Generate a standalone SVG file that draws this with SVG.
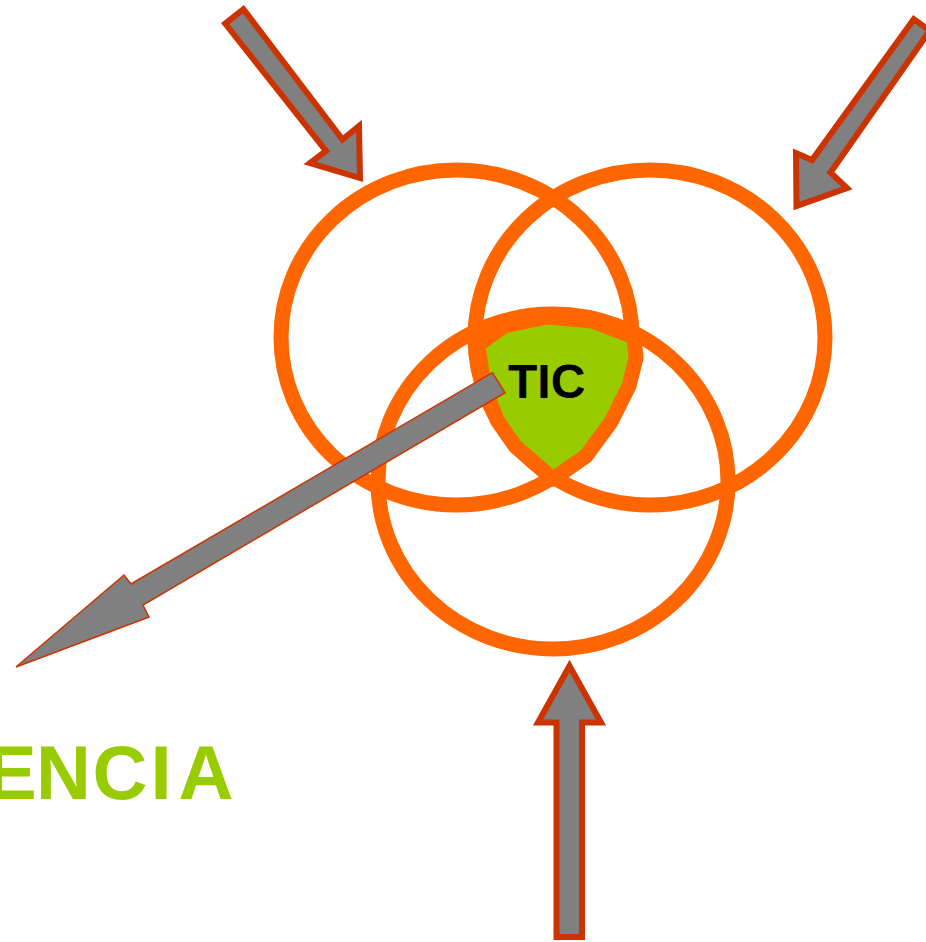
<svg xmlns="http://www.w3.org/2000/svg" width="926" height="942" viewBox="0 0 926 942">
<style>
.ring{fill:none;stroke:#FF6600;stroke-width:15}
.arrow{fill:#808080;stroke:#CC3300;stroke-width:6;stroke-linejoin:miter}
.thin{fill:#808080;stroke:#CC3300;stroke-width:1.5}
.label{font-family:"Liberation Sans",Arial,sans-serif;font-weight:bold}
</style>
<rect width="926" height="942" fill="#FFFFFF"/>
<g id="circle-left"><ellipse class="ring" cx="456.5" cy="337.5" rx="175.5" ry="167.5"/></g>
<g id="circle-right"><ellipse class="ring" cx="650" cy="337.5" rx="175" ry="167.5"/></g>
<g id="circle-bottom"><ellipse class="ring" cx="553" cy="481.5" rx="175" ry="167.5"/></g>
<g id="tic">
<polygon points="478,345 504,326 547,317 592,321 634,337 636,358 629,386 611,422 586,456 553,479 515,446 497,420 484,386" fill="#99CC00" stroke="#FF6600" stroke-width="15" stroke-linejoin="round"/>
</g>
<g id="connectors">
<polygon class="arrow" points="225.2,23.6 243.4,9.2 342.5,139.5 359,126 360,178 310,163 326,151"/>
<polygon class="arrow" points="913.8,19.2 929.8,30.5 830.5,172.5 847,188 796.5,206 796,153 812,160"/>
<polygon class="arrow" points="569.5,666 601,722.5 582,722.5 582,937 556.5,937 556.5,722.5 538,722.5"/>
<polygon class="thin" points="492.3,372.7 505,392.7 143,605 149,617 16,667 124,575 131,584"/>
</g>
<g id="label-tic"><text class="label" x="508" y="398" font-size="48" fill="#000000">TIC</text></g>
<g id="label-encia"><text class="label" x="-14 36 92.6 150.4 178.6" y="799" font-size="76" fill="#99CC00">ENCIA</text></g>
</svg>
